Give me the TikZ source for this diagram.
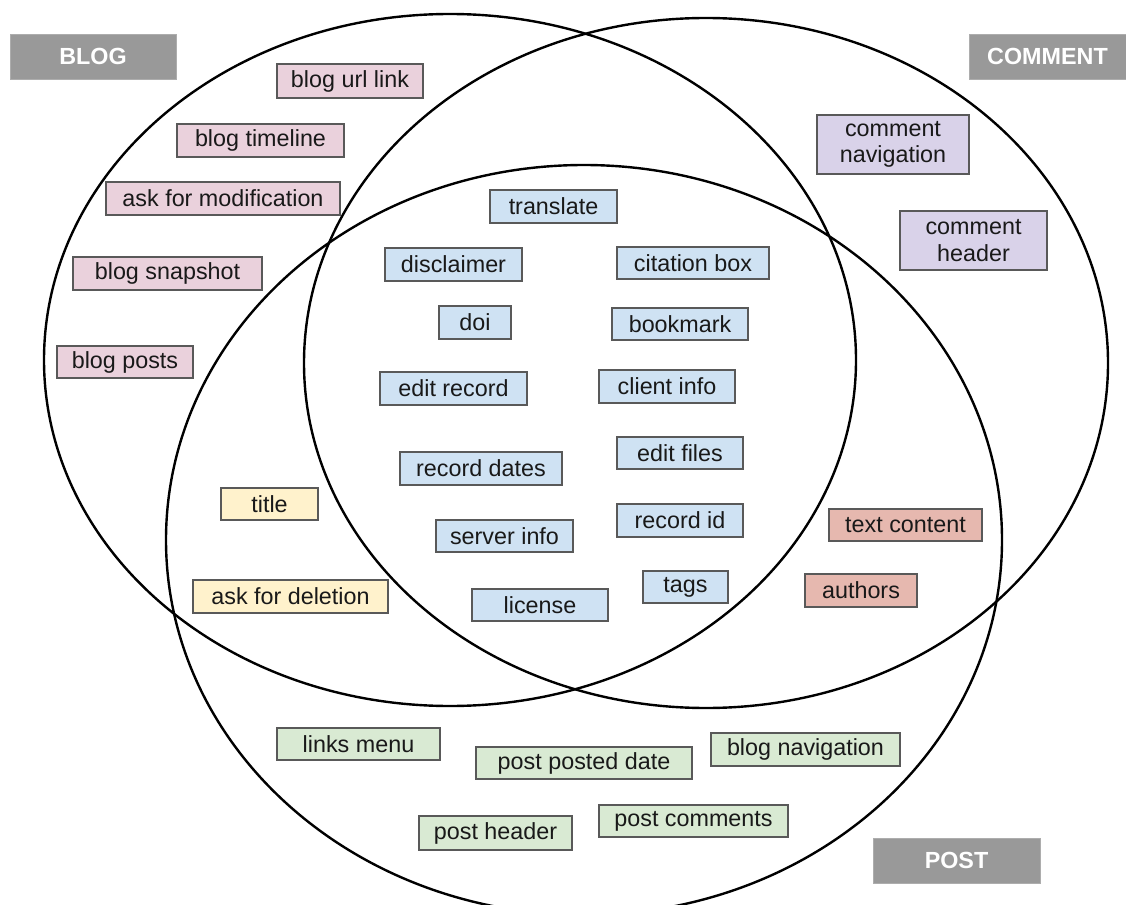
\documentclass[tikz,border=0pt]{standalone}
\usepackage{fontspec}
\setmainfont{Liberation Sans}
\definecolor{pinkf}{HTML}{EAD1DC}
\definecolor{purpf}{HTML}{D9D2E9}
\definecolor{bluef}{HTML}{CFE2F3}
\definecolor{yellf}{HTML}{FFF2CC}
\definecolor{redf}{HTML}{E6B8AF}
\definecolor{greenf}{HTML}{D9EAD3}
\definecolor{labf}{HTML}{999999}
\definecolor{bord}{HTML}{595959}
\tikzset{
  sz/.style 2 args={minimum width=#1*0.75pt, minimum height=#2*0.75pt},
  item/.style={draw=bord, line width=0.9pt, inner sep=0pt, align=center,
    font=\fontsize{17.5}{20}\selectfont, text=black!90},
  pinkbox/.style={item, fill=pinkf},
  purpbox/.style={item, fill=purpf},
  bluebox/.style={item, fill=bluef},
  yellbox/.style={item, fill=yellf},
  redbox/.style={item, fill=redf},
  greenbox/.style={item, fill=greenf},
  setlabel/.style={fill=labf, draw=labf!80, line width=0.4pt, inner sep=0pt, text=white,
    font=\fontsize{17.5}{20}\selectfont\bfseries},
  setline/.style={line width=1.8pt, black}
}
\begin{document}
\begin{tikzpicture}[x=0.75pt,y=-0.75pt]
\useasboundingbox (0,0) rectangle (1126,905);
% sets
\draw[setline] (450,360) ellipse [x radius=406, y radius=346];
\draw[setline] (706,363) ellipse [x radius=402, y radius=345];
\begin{scope}
\clip (0,0) rectangle (1126,905);
\draw[setline] (584,540) ellipse [x radius=418, y radius=375];
\end{scope}
% set labels
\node[setlabel, sz={166}{45}] (lblog) at (93,56.5) {BLOG};
\node[setlabel, sz={157}{45}] (lcomment) at (1047.5,56.5) {COMMENT};
\node[setlabel, sz={167}{45}] (lpost) at (956.5,860.5) {POST};
% blog only
\node[pinkbox, sz={146}{34}] (burl) at (350,81) {blog url link};
\node[pinkbox, sz={167}{33}] (btime) at (260.5,140.5) {blog timeline};
\node[pinkbox, sz={234}{33}] (bmod) at (223,198.5) {ask for modification};
\node[pinkbox, sz={189}{33}] (bsnap) at (167.5,273.5) {blog snapshot};
\node[pinkbox, sz={136}{32}] (bposts) at (125,362) {blog posts};
% comment only
\node[purpbox, sz={152}{59}] (cnav) at (893,144.5) {comment\\navigation};
\node[purpbox, sz={147}{59}] (chead) at (973.5,240.5) {comment\\header};
% all three
\node[bluebox, sz={127}{33}] (translate) at (553.5,206.5) {translate};
\node[bluebox, sz={137}{33}] (disclaimer) at (453.5,264.5) {disclaimer};
\node[bluebox, sz={152}{32}] (citation) at (693,263) {citation box};
\node[bluebox, sz={72}{33}] (doi) at (475,322.5) {doi};
\node[bluebox, sz={136}{32}] (bookmark) at (680,324) {bookmark};
\node[bluebox, sz={147}{33}] (editrec) at (453.5,388.5) {edit record};
\node[bluebox, sz={136}{33}] (client) at (667,386.5) {client info};
\node[bluebox, sz={126}{32}] (editfiles) at (680,453) {edit files};
\node[bluebox, sz={162}{33}] (recdates) at (481,468.5) {record dates};
\node[bluebox, sz={126}{33}] (recid) at (680,520.5) {record id};
\node[bluebox, sz={137}{32}] (server) at (504.5,536) {server info};
\node[bluebox, sz={85}{32}] (tags) at (685.5,587) {tags};
\node[bluebox, sz={136}{32}] (license) at (540,605) {license};
% blog & post
\node[yellbox, sz={97}{32}] (title) at (269.5,504) {title};
\node[yellbox, sz={195}{33}] (deletion) at (290.5,596.5) {ask for deletion};
% comment & post
\node[redbox, sz={153}{32}] (textcontent) at (905.5,525) {text content};
\node[redbox, sz={112}{33}] (authors) at (861,590.5) {authors};
% post only
\node[greenbox, sz={163}{32}] (links) at (358.5,744) {links menu};
\node[greenbox, sz={216}{32}] (posted) at (584,763) {post posted date};
\node[greenbox, sz={189}{33}] (blognav) at (805.5,749.5) {blog navigation};
\node[greenbox, sz={153}{34}] (phead) at (495.5,833) {post header};
\node[greenbox, sz={189}{32}] (pcomments) at (693.5,821) {post comments};
\end{tikzpicture}
\end{document}
